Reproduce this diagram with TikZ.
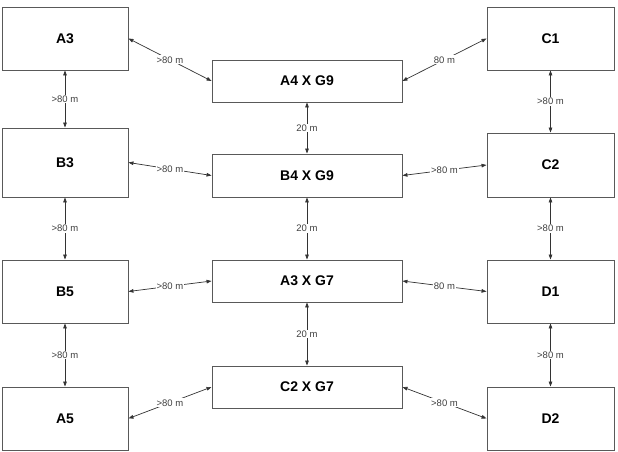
\documentclass[tikz,border=0pt]{standalone}
\usepackage{fontspec}
\setmainfont{Liberation Sans}
\usetikzlibrary{arrows.meta}
\begin{document}
\begin{tikzpicture}[x=1pt,y=-1pt,
  box/.style={draw=black!65,line width=0.9pt,inner sep=0pt,font=\fontsize{14}{16}\selectfont\bfseries},
  side/.style={box,minimum width=126pt},
  mid/.style={box,minimum width=190pt},
  link/.style={draw=black!80,line width=0.7pt,{Triangle[length=5pt,width=3.6pt]}-{Triangle[length=5pt,width=3.6pt]}},
  lbl/.style={fill=white,inner sep=1pt,text=black!75,font=\fontsize{9.5}{11}\selectfont}]
\useasboundingbox (0,0) rectangle (618,452);
% left column
\node[side,minimum height=63pt] (A3) at (65,38.5) {A3};
\node[side,minimum height=69pt] (B3) at (65,162.5) {B3};
\node[side,minimum height=63pt] (B5) at (65,291.5) {B5};
\node[side,minimum height=63pt] (A5) at (65,418.5) {A5};
% right column
\node[side,minimum width=127pt,minimum height=63pt] (C1) at (550.5,38.5) {C1};
\node[side,minimum width=127pt,minimum height=64pt] (C2) at (550.5,165) {C2};
\node[side,minimum width=127pt,minimum height=63pt] (D1) at (550.5,291.5) {D1};
\node[side,minimum width=127pt,minimum height=63pt] (D2) at (550.5,418.5) {D2};
% middle column
\node[mid,minimum height=42pt] (M1) at (307,81) {A4 X G9};
\node[mid,minimum height=43pt] (M2) at (307,175.5) {B4 X G9};
\node[mid,minimum height=42pt] (M3) at (307,281) {A3 X G7};
\node[mid,minimum height=42pt] (M4) at (307,387) {C2 X G7};
% vertical links
\draw[link] (A3.south) -- node[lbl]{>80 m} (B3.north);
\draw[link] (B3.south) -- node[lbl]{>80 m} (B5.north);
\draw[link] (B5.south) -- node[lbl]{>80 m} (A5.north);
\draw[link] (C1.south) -- node[lbl]{>80 m} (C2.north);
\draw[link] (C2.south) -- node[lbl]{>80 m} (D1.north);
\draw[link] (D1.south) -- node[lbl]{>80 m} (D2.north);
\draw[link] (M1.south) -- node[lbl]{20 m} (M2.north);
\draw[link] (M2.south) -- node[lbl]{20 m} (M3.north);
\draw[link] (M3.south) -- node[lbl]{20 m} (M4.north);
% slanted links
\draw[link] (A3.east) -- node[lbl]{>80 m} (M1.west);
\draw[link] (B3.east) -- node[lbl]{>80 m} (M2.west);
\draw[link] (B5.east) -- node[lbl]{>80 m} (M3.west);
\draw[link] (A5.east) -- node[lbl]{>80 m} (M4.west);
\draw[link] (M1.east) -- node[lbl]{80 m} (C1.west);
\draw[link] (M2.east) -- node[lbl]{>80 m} (C2.west);
\draw[link] (M3.east) -- node[lbl]{80 m} (D1.west);
\draw[link] (M4.east) -- node[lbl]{>80 m} (D2.west);
\end{tikzpicture}
\end{document}
